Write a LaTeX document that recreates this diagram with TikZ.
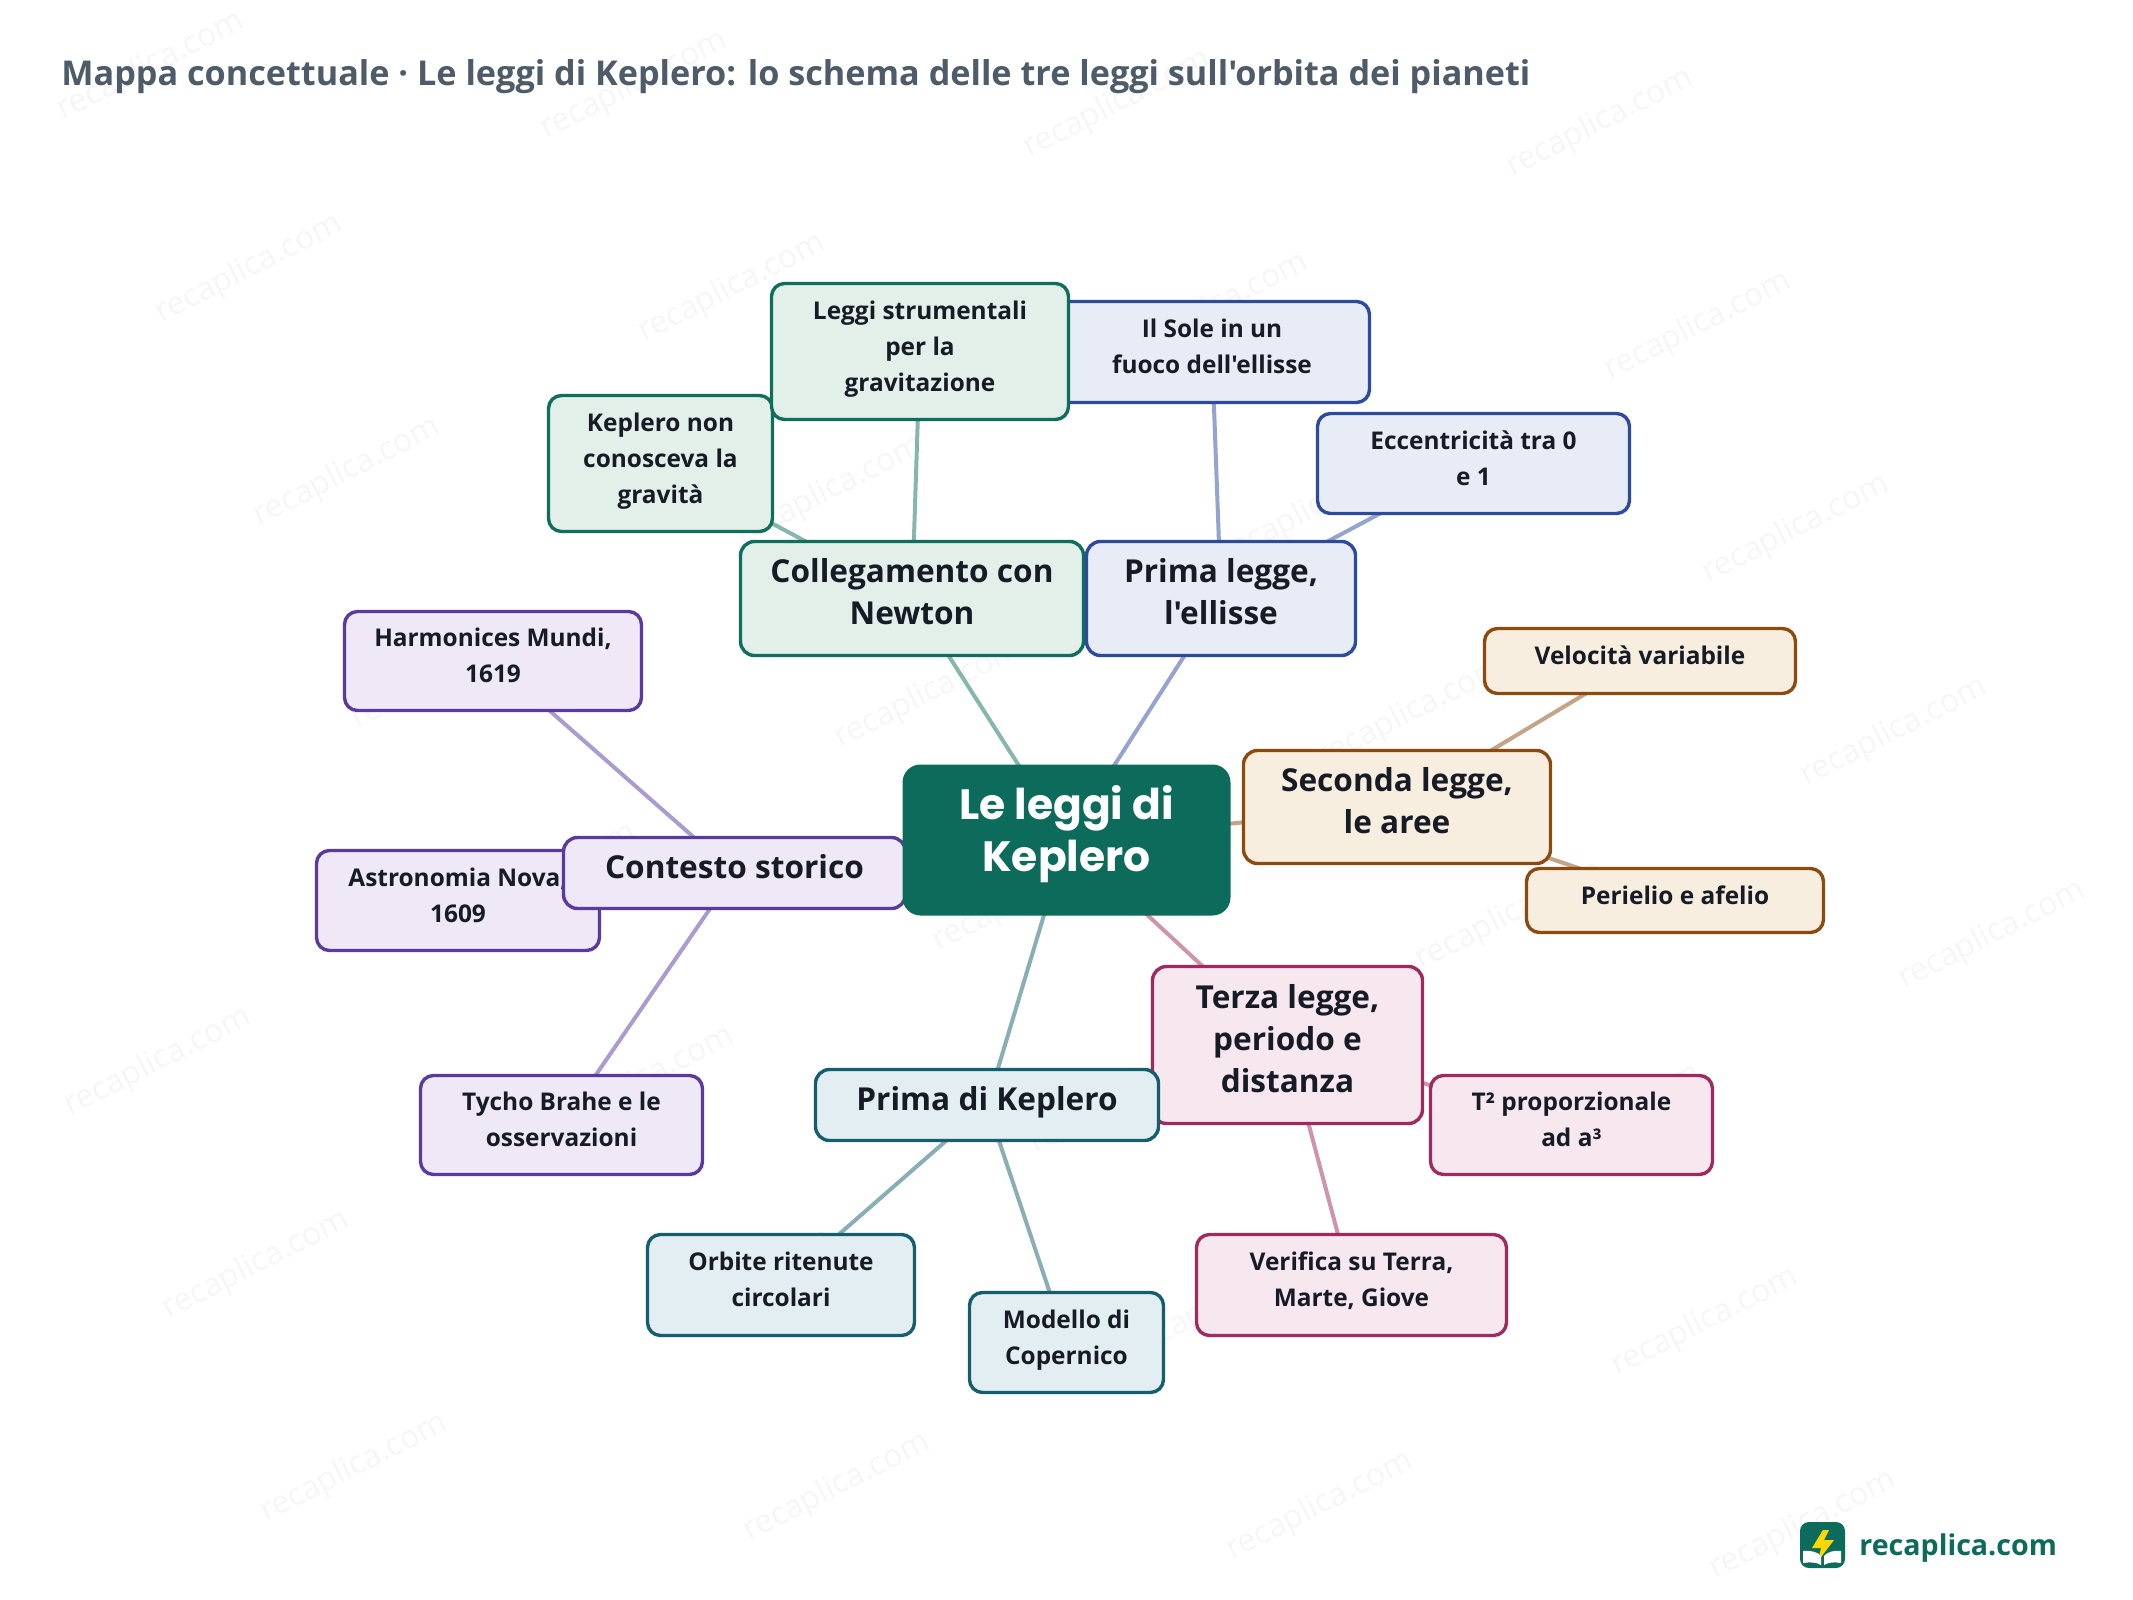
\documentclass[tikz,border=0pt]{standalone}
\usepackage{fontspec}
\newfontfamily\bodyf{Open Sans}
\newfontfamily\heavy{Poppins}
\setmainfont{Open Sans}
\definecolor{txt}{HTML}{161B26}
\definecolor{titlec}{HTML}{4E5B69}
\definecolor{rootc}{HTML}{0D6B5B}
\definecolor{gB}{HTML}{0F6E5C}\definecolor{gF}{HTML}{E2F0E9}
\definecolor{bB}{HTML}{2C4A9E}\definecolor{bF}{HTML}{E8ECF7}
\definecolor{oB}{HTML}{8B4A10}\definecolor{oF}{HTML}{F7EEDF}
\definecolor{pB}{HTML}{9E2A5F}\definecolor{pF}{HTML}{F7E8F0}
\definecolor{tB}{HTML}{155E6E}\definecolor{tF}{HTML}{E3EEF3}
\definecolor{vB}{HTML}{5B3A9E}\definecolor{vF}{HTML}{EEE8F7}
\pgfdeclarelayer{wm}\pgfdeclarelayer{edges}\pgfsetlayers{wm,edges,main}
\tikzset{
 boxbase/.style={draw,rectangle,align=center,inner sep=0pt,line width=1.7pt,text=txt},
 rootbox/.style={boxbase,draw=none,fill=rootc,rounded corners=9pt,text=white,
   font=\heavy\bfseries\fontsize{21.2}{26}\selectfont,execute at end node={\rule[-11pt]{0pt}{0pt}}},
 mainbox/.style={boxbase,rounded corners=7pt,font=\bodyf\bfseries\fontsize{15.8}{21}\selectfont,
   execute at end node={\rule[-7pt]{0pt}{0pt}}},
 leaf/.style={boxbase,rounded corners=6.5pt,font=\bodyf\bfseries\fontsize{12.2}{18}\selectfont,
   execute at end node={\rule[-5.5pt]{0pt}{0pt}}},
 gc/.style={draw=gB,fill=gF},bc/.style={draw=bB,fill=bF},oc/.style={draw=oB,fill=oF},
 pc/.style={draw=pB,fill=pF},tc/.style={draw=tB,fill=tF},vc/.style={draw=vB,fill=vF},
 link/.style={line width=2pt,draw opacity=.5},
 wmark/.style={text=black,text opacity=.035,rotate=27,font=\bodyf\fontsize{16}{18}\selectfont}
}
\newcommand{\bx}[7]{%
 \pgfmathsetmacro\bxcx{(#3+#5)/2}\pgfmathsetmacro\bxcy{(#4+#6)/2}%
 \pgfmathsetmacro\bxw{(#5-#3-1)*0.5}\pgfmathsetmacro\bxh{(#6-#4-1)*0.5}%
 \node[#2,minimum width=\bxw pt,minimum height=\bxh pt] (#1) at (\bxcx,\bxcy) {#7};}
\begin{document}
\begin{tikzpicture}[x=0.5pt,y=-0.5pt]
\useasboundingbox (0,0) rectangle (2133,1600);
\begin{pgfonlayer}{wm}
\fill[white] (0,0) rectangle (2133,1600);
\foreach \i in {-2,...,6}{\foreach \j in {-2,...,8}{
  \pgfmathsetmacro\wx{249+483*\i+98*\j}\pgfmathsetmacro\wy{269+19*\i+203*\j}
  \pgfmathparse{(\wx>60 && \wx<2080 && \wy>50 && \wy<1550) ? 1 : 0}
  \ifnum\pgfmathresult=1
  \node[wmark] (w\i\j) at (\wx,\wy) {recaplica.com};
  \fi
}}
\end{pgfonlayer}
\node[anchor=base west,inner sep=0pt,text=titlec,font=\bodyf\bfseries\fontsize{17.1}{20}\selectfont] (title) at (61,86) {Mappa concettuale · Le leggi di Keplero: lo schema delle tre leggi sull'orbita dei pianeti};
% leaves
\bx{kn}{leaf,gc}{548}{395}{773}{532}{Keplero non\\conosceva la\\gravità}
\bx{so}{leaf,bc}{1054}{301}{1370}{403}{Il Sole in un\\fuoco dell'ellisse}
\bx{ls}{leaf,gc}{771}{283}{1069}{420}{Leggi strumentali\\per la\\gravitazione}
\bx{ec}{leaf,bc}{1317}{413}{1630}{514}{Eccentricità tra 0\\e 1}
\bx{ha}{leaf,vc}{344}{611}{642}{711}{Harmonices Mundi,\\1619}
\bx{as}{leaf,vc}{316}{850}{600}{951}{Astronomia Nova,\\1609}
\bx{ty}{leaf,vc}{420}{1075}{703}{1175}{Tycho Brahe e le\\osservazioni}
\bx{or}{leaf,tc}{647}{1234}{915}{1336}{Orbite ritenute\\circolari}
\bx{mo}{leaf,tc}{969}{1292}{1164}{1393}{Modello di\\Copernico}
\bx{ve}{leaf,pc}{1196}{1234}{1507}{1336}{Verifica su Terra,\\Marte, Giove}
\bx{tq}{leaf,pc}{1430}{1075}{1713}{1175}{T² proporzionale\\ad a³}
\bx{vl}{leaf,oc}{1484}{628}{1796}{694}{Velocità variabile}
\bx{pe}{leaf,oc}{1526}{868}{1824}{933}{Perielio e afelio}
% main branches
\bx{co}{mainbox,gc}{740}{541}{1084}{656}{Collegamento con\\Newton}
\bx{pl}{mainbox,bc}{1086}{541}{1356}{656}{Prima legge,\\l'ellisse}
\bx{se}{mainbox,oc}{1243}{750}{1551}{864}{Seconda legge,\\le aree}
\bx{te}{mainbox,pc}{1152}{966}{1423}{1124}{Terza legge,\\periodo e\\distanza}
\bx{pk}{mainbox,tc}{815}{1069}{1159}{1141}{Prima di Keplero}
\bx{cs}{mainbox,vc}{563}{837}{906}{909}{Contesto storico}
\bx{root}{rootbox}{902}{764}{1231}{916}{Le leggi di\\Keplero}
\begin{pgfonlayer}{edges}
\draw[link,draw=gB] (root.center)--(co.center) (co.center)--(ls.center) (co.center)--(kn.center);
\draw[link,draw=bB] (root.center)--(pl.center) (pl.center)--(so.center) (pl.center)--(ec.center);
\draw[link,draw=oB] (root.center)--(se.center) (se.center)--(vl.center) (se.center)--(pe.center);
\draw[link,draw=pB] (root.center)--(te.center) (te.center)--(tq.center) (te.center)--(ve.center);
\draw[link,draw=tB] (root.center)--(pk.center) (pk.center)--(or.center) (pk.center)--(mo.center);
\draw[link,draw=vB] (root.center)--(cs.center) (cs.center)--(ha.center) (cs.center)--(as.center) (cs.center)--(ty.center);
\end{pgfonlayer}
% logo
\node[draw=none,fill=rootc,rounded corners=4.5pt,minimum width=22.5pt,minimum height=23pt,inner sep=0pt] (logo) at (1822.5,1545) {};
\fill[yellow!75!orange] (1823,1530)--(1812,1548)--(1821,1548)--(1818,1561)--(1834,1540)--(1824,1540)--(1829,1530)--cycle;
\fill[white] (1803,1551) .. controls (1810,1550) and (1818,1552) .. (1821,1556)--(1821,1565) .. controls (1816,1562) and (1810,1562) .. (1803,1563)--cycle;
\fill[white] (1841,1551) .. controls (1834,1550) and (1827,1552) .. (1824,1556)--(1824,1565) .. controls (1829,1562) and (1834,1562) .. (1841,1563)--cycle;
\node[anchor=base west,inner sep=0pt,text=rootc,font=\bodyf\bfseries\fontsize{14.3}{18}\selectfont] (brand) at (1859,1555) {recaplica.com};
\end{tikzpicture}
\end{document}
